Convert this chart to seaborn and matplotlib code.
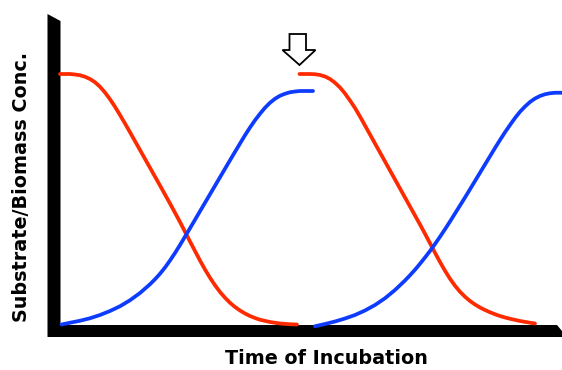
import seaborn as sns
import matplotlib.pyplot as plt
from matplotlib.patches import Polygon

# values (time in arbitrary units, concentration 0-100)
red1_t = [0, 2, 3, 4, 5, 6, 7, 8, 9, 10, 11, 12, 13, 14, 16, 18, 20, 22, 24, 26, 27, 28, 29,
          30, 31, 32, 33, 34, 35, 36, 37, 38, 39, 40, 42, 44, 46, 47.4]
red1_c = [100.4, 100.4, 100.2, 99.9, 99.3, 98.4, 97.1, 95.3, 93.0, 90.3, 87.3, 84.0, 80.6,
          77.1, 70.0, 62.9, 55.8, 48.6, 41.2, 33.4, 29.6, 25.8, 22.2, 18.9, 15.9, 13.2, 10.9,
          8.9, 7.2, 5.8, 4.6, 3.6, 2.8, 2.1, 1.2, 0.6, 0.3, 0.2]

blue1_t = [0.3, 2, 4, 6, 8, 10, 12, 14, 16, 18, 19, 20, 21, 22, 23, 24, 26, 28, 30, 32, 34, 36,
           37, 38, 39, 40, 41, 42, 43, 44, 45, 46, 47, 48, 49, 50.6]
blue1_c = [0.2, 0.9, 1.7, 2.7, 4.0, 5.6, 7.5, 9.9, 12.8, 16.3, 18.3, 20.5, 23.0, 25.8, 28.8,
           32.0, 38.7, 45.5, 52.3, 59.1, 65.9, 72.6, 75.9, 79.0, 81.9, 84.5, 86.9, 88.9, 90.5,
           91.7, 92.5, 93.1, 93.4, 93.6, 93.6, 93.6]

red2_t = [47.9, 50, 51, 52, 53, 54, 55, 56, 57, 58, 59, 60, 61, 62, 63, 64, 65, 66, 67, 68, 69,
          70, 71, 72, 73, 74, 75, 76, 77, 78, 79, 80, 81, 82, 83, 84, 85, 86, 87, 88, 89, 90,
          92, 94, 95]
red2_c = [100.4, 100.4, 100.3, 100.0, 99.4, 98.4, 96.9, 95.0, 92.6, 89.8, 86.8, 83.4, 79.8,
          76.2, 72.6, 69.0, 65.4, 61.8, 58.2, 54.6, 51.0, 47.4, 43.8, 40.2, 36.5, 32.7, 28.9,
          25.2, 21.7, 18.5, 15.7, 13.3, 11.3, 9.6, 8.2, 7.0, 6.0, 5.1, 4.3, 3.6, 3.0, 2.5, 1.6,
          0.9, 0.6]

blue2_t = [51, 53, 55, 57, 59, 61, 63, 65, 67, 69, 70, 71, 72, 73, 74, 75, 76, 77, 78, 79, 80,
           81, 82, 83, 84, 85, 86, 87, 88, 89, 90, 91, 92, 93, 94, 95, 96, 97, 98, 99, 100.4]
blue2_c = [-0.5, 0.4, 1.4, 2.6, 4.0, 5.8, 8.0, 10.7, 14.0, 17.8, 19.9, 22.1, 24.5, 27.0, 29.6,
           32.4, 35.3, 38.3, 41.4, 44.6, 47.8, 51.0, 54.3, 57.6, 60.9, 64.2, 67.5, 70.8, 74.0,
           77.1, 80.0, 82.8, 85.3, 87.4, 89.2, 90.6, 91.6, 92.3, 92.7, 92.9, 92.9]

red = '#ff2a00'
blue = '#0d3cff'

sns.set_style('white')
plt.rcParams['font.family'] = ['DejaVu Sans']

fig = plt.figure(figsize=(5.62, 3.70), dpi=100)
ax = fig.add_axes([60 / 562, 45 / 370, 502 / 562, 250 / 370])
ax.set_xlim(0, 100.4)
ax.set_ylim(0, 100)
ax.axis('off')

# thick black axes drawn as one shape
axes_shape = Polygon([(-2.5, 124.4), (0.1, 121.6), (0.1, 0), (99.4, 0), (100.4, -2.4),
                      (100.4, -4.8), (-2.5, -4.8)], closed=True, facecolor='black',
                     edgecolor='none', clip_on=False, zorder=1)
ax.add_patch(axes_shape)

for t, c, col in [(red1_t, red1_c, red), (blue1_t, blue1_c, blue),
                  (red2_t, red2_c, red), (blue2_t, blue2_c, blue)]:
    sns.lineplot(x=t, y=c, color=col, linewidth=2.7, sort=False, ax=ax,
                 clip_on=False, zorder=3, solid_joinstyle='round')

# outlined arrow marking the feed
arrow = Polygon([(45.9, 116.4), (49.2, 116.4), (49.2, 110), (51.1, 110), (47.9, 104),
                 (44.5, 110), (45.9, 110)], closed=True, facecolor='white',
                edgecolor='black', linewidth=1.3, clip_on=False, zorder=4)
ax.add_patch(arrow)

fig.text(22 / 562, 1 - 187 / 370, 'Substrate/Biomass Conc.', rotation=90,
         ha='center', va='center', fontsize=13.8, fontweight='bold', color='black')
fig.text(326 / 562, 1 - 359 / 370, 'Time of Incubation', ha='center', va='center',
         fontsize=13.8, fontweight='bold', color='black')

fig.savefig('out.png', dpi=100)
